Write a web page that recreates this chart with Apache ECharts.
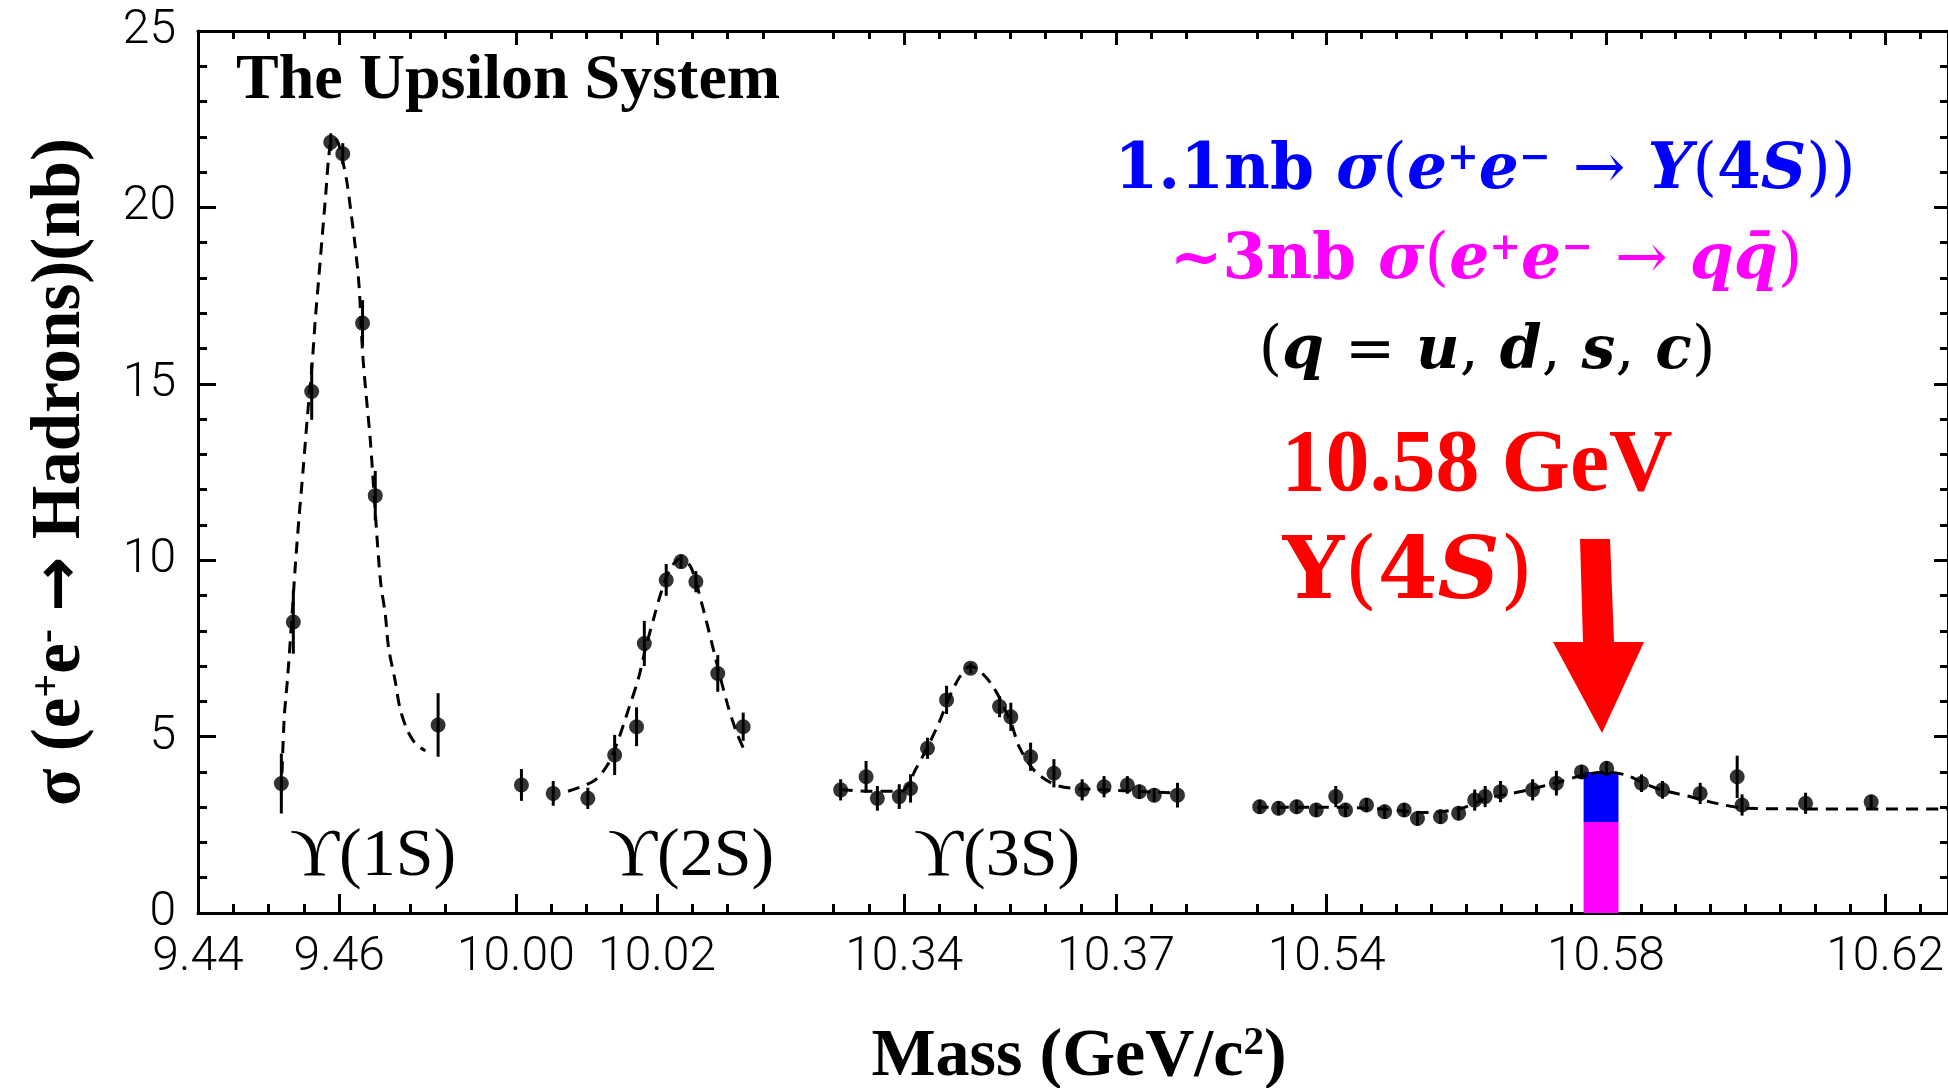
<!DOCTYPE html>
<html>
<head>
<meta charset="utf-8">
<title>The Upsilon System</title>
<script src="https://cdn.jsdelivr.net/npm/echarts@6/dist/echarts.min.js"></script>
<style>
  html, body { margin: 0; padding: 0; background: #fff; }
  #chart { width: 1948px; height: 1088px; }
</style>
</head>
<body>
<div id="chart"></div>
<script>
// mass windows of the broken x axis (GeV/c^2)
const segments = [[9.44, 9.48], [9.995, 10.04], [10.325, 10.385], [10.525, 10.629]]
const majorTicks = [[9.44, 9.46], [10.00, 10.02], [10.34, 10.37], [10.54, 10.58, 10.62]]
const minorStep = 0.005

// scan points: [mass, sigma (nb), error]
const points1S = [
  [9.4518, 3.67, 0.85], [9.4535, 8.25, 0.9], [9.4561, 14.78, 0.8], [9.4588, 21.85, 0.25],
  [9.4605, 21.52, 0.3], [9.4633, 16.72, 0.65], [9.4651, 11.83, 0.7], [9.4740, 5.33, 0.9]
]
const points2S = [
  [10.0008, 3.63, 0.45], [10.0053, 3.39, 0.35], [10.0102, 3.25, 0.3], [10.0140, 4.48, 0.57],
  [10.0171, 5.28, 0.55], [10.0182, 7.64, 0.64], [10.0213, 9.44, 0.45], [10.0234, 9.96, 0.2],
  [10.0255, 9.39, 0.3], [10.0286, 6.79, 0.52], [10.0322, 5.28, 0.4]
]
const points3S = [
  [10.3310, 3.49, 0.3], [10.3346, 3.86, 0.45], [10.3362, 3.25, 0.35], [10.3393, 3.30, 0.35],
  [10.3409, 3.53, 0.4], [10.3433, 4.67, 0.3], [10.3460, 6.04, 0.4], [10.3494, 6.94, 0.15],
  [10.3535, 5.85, 0.3], [10.3551, 5.56, 0.4], [10.3579, 4.43, 0.4], [10.3612, 3.96, 0.4],
  [10.3652, 3.49, 0.3], [10.3683, 3.58, 0.3], [10.3716, 3.63, 0.25], [10.3733, 3.44, 0.2],
  [10.3754, 3.34, 0.2], [10.3787, 3.34, 0.35]
]
const points4S = [
  [10.5304, 3.01, 0.2], [10.5331, 2.97, 0.2], [10.5357, 3.01, 0.2], [10.5385, 2.92, 0.2],
  [10.5413, 3.30, 0.3], [10.5427, 2.92, 0.2], [10.5457, 3.06, 0.2], [10.5483, 2.87, 0.2],
  [10.5511, 2.92, 0.2], [10.5530, 2.68, 0.2], [10.5563, 2.73, 0.2], [10.5589, 2.83, 0.2],
  [10.5612, 3.20, 0.3], [10.5627, 3.30, 0.3], [10.5649, 3.44, 0.3], [10.5695, 3.49, 0.3],
  [10.5729, 3.68, 0.35], [10.5765, 4.00, 0.2], [10.5801, 4.10, 0.2], [10.5851, 3.68, 0.25],
  [10.5881, 3.49, 0.25], [10.5935, 3.39, 0.3], [10.5988, 3.86, 0.6], [10.5995, 3.06, 0.3],
  [10.6086, 3.11, 0.3], [10.6180, 3.15, 0.2]
]

// dashed fit curves: [mass, sigma]
const fit1S = [
  [9.4518, 3.4], [9.4522, 5.5], [9.4527, 6.7], [9.4533, 8.4], [9.4538, 9.9], [9.4543, 11.2],
  [9.4549, 12.6], [9.4555, 14.1], [9.4561, 15.4], [9.4566, 16.8], [9.4571, 18.0], [9.4576, 19.2],
  [9.4581, 20.4], [9.4585, 21.4], [9.4590, 21.95], [9.4597, 21.9], [9.4604, 21.4], [9.4611, 20.7],
  [9.4617, 19.8], [9.4622, 19.0], [9.4628, 17.8], [9.4633, 15.9], [9.4638, 14.7], [9.4644, 13.4],
  [9.4654, 10.5], [9.4659, 9.3], [9.4665, 8.5], [9.4670, 7.5], [9.4679, 6.6], [9.4686, 5.8],
  [9.4696, 5.2], [9.4706, 4.85], [9.4714, 4.7], [9.4722, 4.6]
]
const fit2S = [
  [10.0074, 3.45], [10.0111, 3.75], [10.0130, 4.2], [10.0145, 4.9], [10.0160, 5.8], [10.0173, 6.6],
  [10.0185, 7.6], [10.0196, 8.4], [10.0206, 9.1], [10.0220, 9.8], [10.0234, 10.05], [10.0248, 9.8],
  [10.0263, 8.8], [10.0277, 7.7], [10.0288, 6.8], [10.0300, 5.9], [10.0313, 5.1], [10.0324, 4.6]
]
const fit3S = [
  [10.3310, 3.5], [10.3350, 3.45], [10.3395, 3.45], [10.3417, 4.1], [10.3445, 5.2], [10.3473, 6.5],
  [10.3494, 7.0], [10.3523, 6.5], [10.3551, 5.4], [10.3563, 4.7], [10.3586, 4.0], [10.3619, 3.6],
  [10.3676, 3.5], [10.3787, 3.4]
]
const fit4S = [
  [10.5300, 3.0], [10.5400, 3.0], [10.5480, 2.95], [10.5540, 2.85], [10.5590, 2.95], [10.5630, 3.25],
  [10.5680, 3.45], [10.5730, 3.7], [10.5770, 3.92], [10.5800, 4.0], [10.5830, 3.9], [10.5870, 3.55],
  [10.5920, 3.3], [10.5960, 3.1], [10.6000, 2.97], [10.6100, 2.95], [10.6200, 2.95], [10.6289, 2.95]
]

// running point: continuum (q qbar) part below, Y(4S) part on top
const barMass = [10.5793]
const qqbarPart = [2.58]
const upsilonPart = [1.42]
const barWidthGeV = 0.005

const pointSets = [points1S, points2S, points3S, points4S]
const fitSets = [fit1S, fit2S, fit3S, fit4S]

const PLOT_LEFT = 198
const PX_PER_GEV = 7062
const PLOT_TOP = 31
const PLOT_BOTTOM = 175
const tickFont = 'Roboto, "DejaVu Sans", sans-serif'
const serif = '"Liberation Serif", "DejaVu Serif", serif'
const mathSerif = '"DejaVu Serif", serif'

function minorTicksFor(i) {
  const [lo, hi] = segments[i]
  const out = []
  for (let k = Math.ceil(lo / minorStep - 1e-6); k * minorStep <= hi + 1e-9; k++) {
    const v = Math.round(k * minorStep * 10000) / 10000
    if (v <= lo + 1e-6 || v >= hi - 1e-6) continue
    if (majorTicks[i].some((m) => Math.abs(m - v) < 1e-6)) continue
    out.push(v)
  }
  return out
}

let offset = 0
const grids = segments.map(([lo, hi]) => {
  const g = { left: PLOT_LEFT + offset * PX_PER_GEV, width: (hi - lo) * PX_PER_GEV, top: PLOT_TOP, bottom: PLOT_BOTTOM }
  offset += hi - lo
  return g
})

const black = { color: '#000', width: 3 }
const xAxes = []
segments.forEach(([lo, hi], i) => {
  const base = { type: 'value', gridIndex: i, min: lo, max: hi, splitLine: { show: false }, axisLabel: { show: false } }
  const minors = minorTicksFor(i)
  xAxes.push({
    ...base, position: 'bottom',
    axisLine: { show: true, onZero: false, lineStyle: black },
    axisTick: { inside: true, length: 19, customValues: majorTicks[i], lineStyle: black },
    axisLabel: {
      show: true, customValues: majorTicks[i], margin: 21, color: '#000',
      fontFamily: tickFont, fontWeight: 300, fontSize: 48,
      formatter: (v) => Number(v).toFixed(2)
    }
  })
  xAxes.push({
    ...base, position: 'bottom', axisLine: { show: false },
    axisTick: { inside: true, length: 9, customValues: minors, lineStyle: black }
  })
  xAxes.push({
    ...base, position: 'top',
    axisLine: { show: true, onZero: false, lineStyle: black },
    axisTick: { inside: true, length: 14, customValues: majorTicks[i], lineStyle: black }
  })
  xAxes.push({
    ...base, position: 'top', axisLine: { show: false },
    axisTick: { inside: true, length: 8, customValues: minors, lineStyle: black }
  })
})

const yAxes = segments.map((s, i) => {
  const axis = { type: 'value', gridIndex: i, min: 0, max: 25, interval: 5, splitLine: { show: false } }
  if (i === 0) {
    return {
      ...axis, position: 'left',
      axisLine: { show: true, lineStyle: black },
      axisTick: { inside: true, length: 18, lineStyle: black },
      minorTick: { show: true, splitNumber: 5, length: 9, lineStyle: black },
      axisLabel: { margin: 22, color: '#000', fontFamily: tickFont, fontWeight: 300, fontSize: 48 },
      name: 'σ (e{s|+}e{s|-} {a|→} Hadrons)(nb)',
      nameLocation: 'middle',
      nameGap: 102,
      nameTextStyle: {
        color: '#000', fontFamily: serif, fontWeight: 'bold', fontSize: 69,
        rich: {
          s: { color: '#000', fontFamily: serif, fontWeight: 'bold', fontSize: 42, verticalAlign: 'top' },
          a: { color: '#000', fontFamily: '"DejaVu Sans", sans-serif', fontSize: 66 }
        }
      }
    }
  }
  if (i === segments.length - 1) {
    return {
      ...axis, position: 'right',
      axisLine: { show: true, lineStyle: black },
      axisTick: { inside: true, length: 14, lineStyle: black },
      minorTick: { show: true, splitNumber: 5, length: 8, lineStyle: black },
      axisLabel: { show: false }
    }
  }
  return { ...axis, show: false }
})

const series = []
pointSets.forEach((pts, i) => {
  series.push({
    type: 'line', xAxisIndex: 4 * i, yAxisIndex: i, data: fitSets[i],
    showSymbol: false, smooth: 0.3, silent: true, z: 2,
    lineStyle: { color: '#000', width: 3, type: [12, 8] }
  })
  series.push({
    type: 'custom', xAxisIndex: 4 * i, yAxisIndex: i, silent: true, z: 3,
    data: pts.map((p) => [p[0], p[1] - p[2], p[1] + p[2]]),
    encode: { x: 0, y: [1, 2] },
    renderItem: (params, api) => {
      const lo = api.coord([api.value(0), api.value(1)])
      const hi = api.coord([api.value(0), api.value(2)])
      return { type: 'line', shape: { x1: lo[0], y1: lo[1], x2: hi[0], y2: hi[1] }, style: { stroke: '#000', lineWidth: 3 } }
    }
  })
  series.push({
    type: 'scatter', xAxisIndex: 4 * i, yAxisIndex: i, silent: true, z: 4,
    data: pts.map((p) => [p[0], p[1]]),
    symbol: 'circle', symbolSize: 15, itemStyle: { color: '#000' }
  })
})

// stacked running-point bar: rows [mass, from, to]; even rows q-qbar, odd rows Y(4S)
const barRows = []
barMass.forEach((m, k) => {
  barRows.push([m, 0, qqbarPart[k]])
  barRows.push([m, qqbarPart[k], qqbarPart[k] + upsilonPart[k]])
})
const barColors = ['#ff00ff', '#0000ff']
const last = segments.length - 1
series.push({
  type: 'custom', xAxisIndex: 4 * last, yAxisIndex: last, silent: true, z: 1,
  data: barRows,
  encode: { x: 0, y: [1, 2] },
  renderItem: (params, api) => {
    const lo = api.coord([api.value(0), api.value(1)])
    const hi = api.coord([api.value(0), api.value(2)])
    const w = api.size([barWidthGeV, 0])[0]
    return {
      type: 'rect',
      shape: { x: lo[0] - w / 2, y: hi[1], width: w, height: lo[1] - hi[1] },
      style: { fill: barColors[params.dataIndex % 2] }
    }
  }
})

function mathRich(fill, size, family) {
  return {
    n: { fill, fontFamily: family, fontWeight: 'bold', fontSize: size },
    i: { fill, fontFamily: family, fontWeight: 'bold', fontStyle: 'italic', fontSize: size },
    p: { fill, fontFamily: family, fontWeight: 'normal', fontSize: size },
    s: { fill, fontFamily: family, fontWeight: 'bold', fontSize: Math.round(size * 0.6), verticalAlign: 'top' }
  }
}

function label(x, y, text, fill, size, extra, family) {
  const fam = family || serif
  return {
    type: 'text', x, y, silent: true, z: 10,
    style: Object.assign({
      text, fill, fontFamily: fam, fontWeight: 'bold', fontSize: size,
      align: 'center', verticalAlign: 'middle', rich: mathRich(fill, size, fam)
    }, extra || {})
  }
}

const graphic = [
  label(236, 81, 'The Upsilon System', '#000', 64, { align: 'left' }),
  label(373, 857, 'ϒ(1S)', '#000', 68, { fontWeight: 'normal' }),
  label(691, 857, 'ϒ(2S)', '#000', 68, { fontWeight: 'normal' }),
  label(997, 857, 'ϒ(3S)', '#000', 68, { fontWeight: 'normal' }),
  label(1079, 1057, 'Mass (GeV/c{s|2})', '#000', 68),
  label(1485, 172, '{n|1.1nb} {i|σ}{p|(}{i|e}{s|+}{i|e}{s|−} {p|→} {i|Υ}{p|(}{n|4}{i|S}{p|))}', '#0000ff', 63, null, mathSerif),
  label(1486, 262, '{n|~3nb} {i|σ}{p|(}{i|e}{s|+}{i|e}{s|−} {p|→} {i|qq̄}{p|)}', '#ff00ff', 63, null, mathSerif),
  label(1487, 352, '{p|(}{i|q} {p|=} {i|u}{p|,} {i|d}{p|,} {i|s}{p|,} {i|c}{p|)}', '#000', 60, null, mathSerif),
  label(1477, 467, '10.58 GeV', '#ff0000', 88),
  label(1408, 576, '{n|Υ}{p|(}{n|4}{i|S}{p|)}', '#ff0000', 86, null, mathSerif),
  {
    type: 'polygon', silent: true, z: 10,
    shape: { points: [[1580, 539], [1610, 539], [1614, 642], [1644, 642], [1602, 733], [1553, 642], [1583, 642]] },
    style: { fill: '#ff0000' }
  }
]

const chart = echarts.init(document.getElementById('chart'))
chart.setOption({
  animation: false,
  backgroundColor: '#fff',
  grid: grids,
  xAxis: xAxes,
  yAxis: yAxes,
  series,
  graphic
})
</script>
</body>
</html>
